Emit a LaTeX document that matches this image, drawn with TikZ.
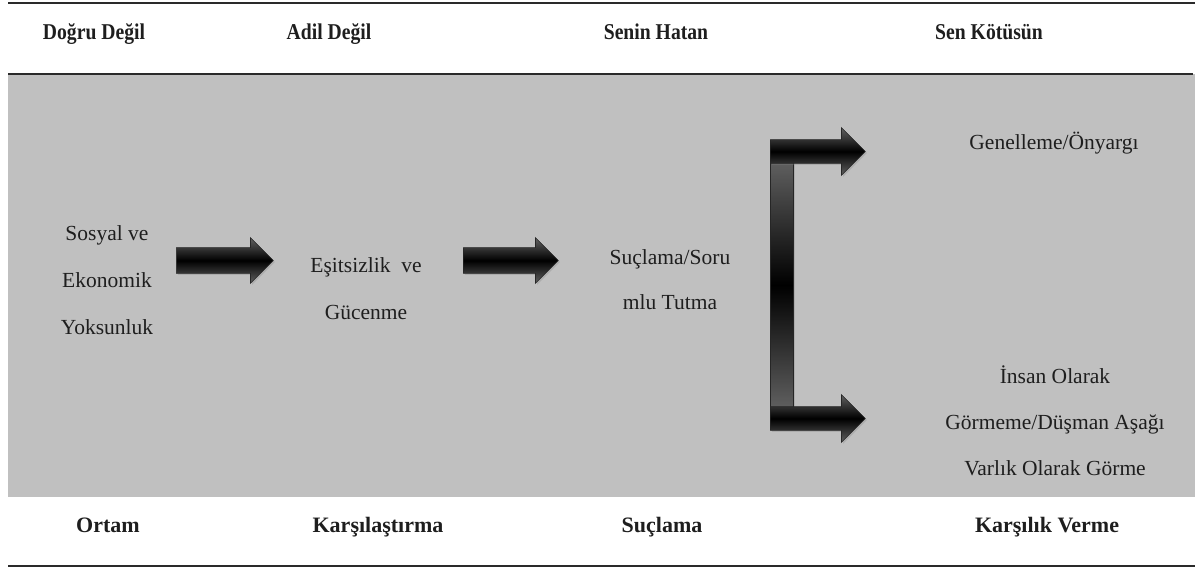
\documentclass[tikz,border=0pt]{standalone}
\usepackage{fontspec}
\setmainfont{Liberation Serif}
\newfontfamily\hdrfont[FakeStretch=0.87]{Liberation Serif}
\newfontfamily\ftrfont{Liberation Serif}
\usetikzlibrary{shapes.arrows,shadows}
\definecolor{panelgray}{HTML}{C0C0C0}
\definecolor{rulecol}{HTML}{2A2A2A}
\definecolor{txtcol}{HTML}{1E1E1E}
\begin{document}
\begin{tikzpicture}[x=1pt,y=-1pt,
  hdr/.style={font=\hdrfont\bfseries\fontsize{22.6}{24}\selectfont, text=txtcol, inner sep=0, anchor=base},
  ftr/.style={font=\ftrfont\bfseries\fontsize{22}{24}\selectfont, text=txtcol, inner sep=0, anchor=base},
  body/.style={font=\fontsize{21.5}{47}\selectfont, text=txtcol, inner sep=0, align=center},
  blockarrow/.style={single arrow, draw=black!85, line width=0.6pt, inner sep=0, anchor=tail,
    text height=12.5pt, text depth=12.5pt, single arrow head extend=10pt,
    minimum height=97pt, top color=black!62, bottom color=black!62, middle color=black,
    drop shadow={opacity=0.3, shadow xshift=1.5pt, shadow yshift=-1.5pt}},
  forkarrow/.style={blockarrow, text height=11.5pt, text depth=11.5pt,
    single arrow head extend=12pt, minimum height=95pt},
]
\useasboundingbox (0,0) rectangle (1201,569);
% frame
\fill[panelgray] (8,74) rectangle (1195,497);
\draw[rulecol, line width=2pt] (8,3) -- (1195,3);
\draw[rulecol, line width=1.6pt] (8,74) -- (1193,74);
\draw[rulecol, line width=2pt] (8,566) -- (1195,566);
% headers
\node[hdr] (h1) at (94,40) {Doğru Değil};
\node[hdr] (h2) at (329,40) {Adil Değil};
\node[hdr] (h3) at (656,40) {Senin Hatan};
\node[hdr] (h4) at (989,40) {Sen Kötüsün};
% footers
\node[ftr] (f1) at (108,532) {Ortam};
\node[ftr] (f2) at (378,532) {Karşılaştırma};
\node[ftr] (f3) at (662,532) {Suçlama};
\node[ftr] (f4) at (1047,532) {Karşılık Verme};
% body texts
\node[body] (t1) at (107,280) {Sosyal ve\\Ekonomik\\Yoksunluk};
\node[body] (t2) at (366,289) {Eşitsizlik\ \ ve\\Gücenme};
\node[body, font=\fontsize{21.5}{45}\selectfont] (t3) at (670,280) {Suçlama/Soru\\mlu Tutma};
\node[body] (t4) at (1054,143) {Genelleme/Önyargı};
\node[body, font=\fontsize{21.5}{46}\selectfont] (t5) at (1055,421) {İnsan Olarak\\Görmeme/Düşman Aşağı\\Varlık Olarak Görme};
% block arrows
\node[blockarrow] (a1) at (176,260.5) {};
\node[blockarrow, minimum height=95pt] (a2) at (463,260.5) {};
% fork
\shade[top color=black!62, bottom color=black!62, middle color=black, draw=black!85, line width=0.6pt,
  drop shadow={opacity=0.3, shadow xshift=1.5pt, shadow yshift=-1.5pt}]
  (770,160) rectangle (793,410);
\node[forkarrow] (a3) at (770,151.5) {};
\node[forkarrow] (a4) at (770,418.5) {};
\end{tikzpicture}
\end{document}
